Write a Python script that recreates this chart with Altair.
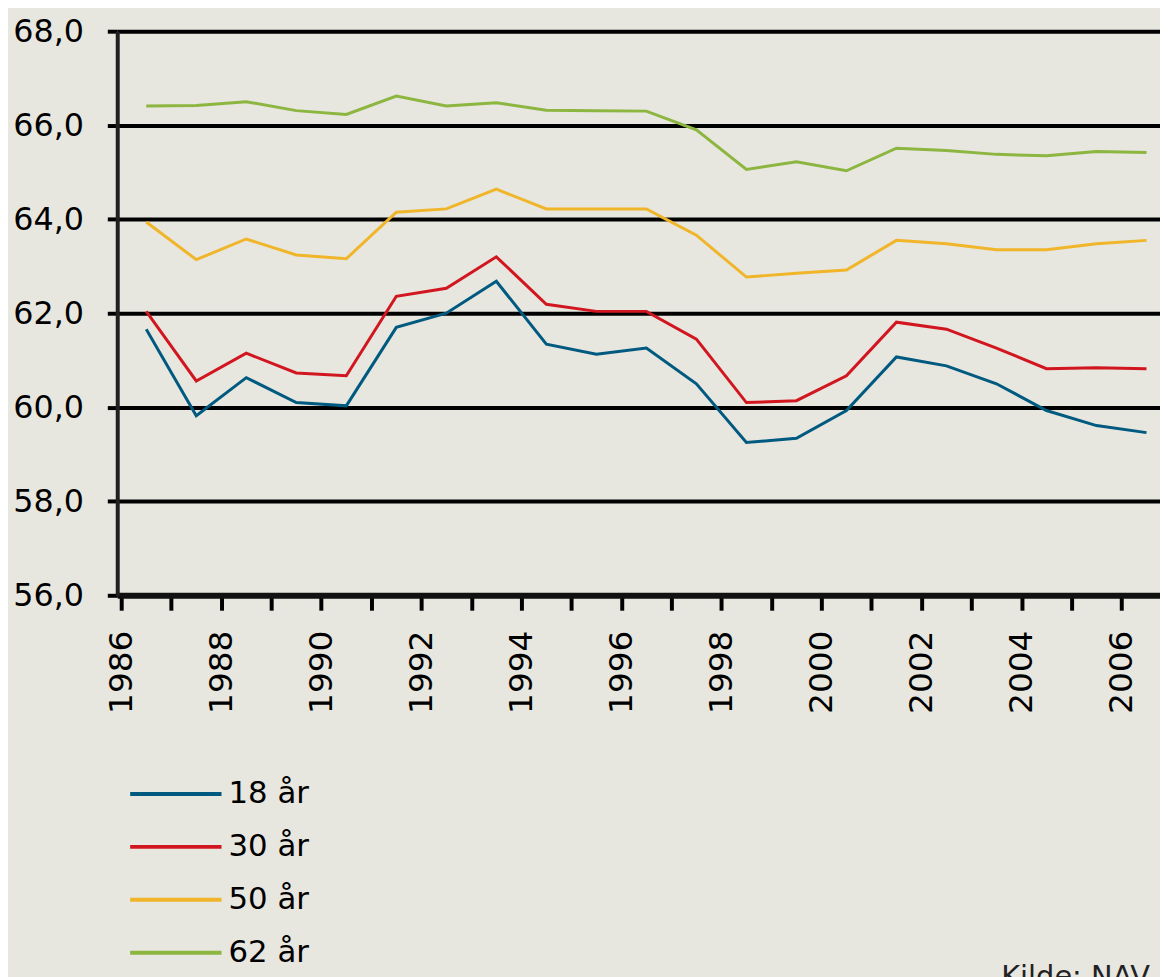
import altair as alt
import pandas as pd

years = list(range(1986, 2007))
series_names = ["18 år", "30 år", "50 år", "62 år"]
series_colors = ["#005a80", "#d2161f", "#f0b528", "#8cb640"]

age18 = [61.66, 59.82, 60.63, 60.10, 60.03, 61.70, 62.00, 62.68, 61.34, 61.13, 61.26,
         60.50, 59.25, 59.34, 59.93, 61.07, 60.88, 60.50, 59.93, 59.61, 59.46]
age30 = [62.04, 60.56, 61.15, 60.73, 60.67, 62.36, 62.53, 63.20, 62.19, 62.04, 62.04,
         61.45, 60.10, 60.14, 60.67, 61.81, 61.66, 61.26, 60.82, 60.84, 60.82]
age50 = [63.94, 63.14, 63.58, 63.24, 63.16, 64.15, 64.22, 64.64, 64.22, 64.22, 64.22,
         63.66, 62.77, 62.85, 62.92, 63.55, 63.48, 63.35, 63.35, 63.48, 63.55]
age62 = [66.41, 66.42, 66.50, 66.31, 66.23, 66.62, 66.41, 66.48, 66.32, 66.31, 66.30,
         65.90, 65.06, 65.22, 65.03, 65.51, 65.46, 65.38, 65.35, 65.44, 65.42]

y_ticks = [56, 58, 60, 62, 64, 66, 68]
source_text = ["Kilde: NAV"]

rows = []
for name, vals in zip(series_names, [age18, age30, age50, age62]):
    for yr, v in zip(years, vals):
        rows.append({"year": yr, "value": v, "serie": name})
df = pd.DataFrame(rows)
legend_df = pd.DataFrame({"serie": series_names})

FONT = "DejaVu Sans"
color_scale = alt.Scale(domain=series_names, range=series_colors)

lines = alt.Chart(df).transform_calculate(
    xpos="datum.year + 0.5"
).mark_line(strokeWidth=3).encode(
    x=alt.X("xpos:Q",
            scale=alt.Scale(domain=[1985.92, 2006.77], nice=False, zero=False),
            axis=alt.Axis(values=years, title=None,
                          labelExpr="datum.value % 2 == 0 ? format(datum.value, 'd') : ''",
                          labelAngle=-90, labelAlign="right", labelBaseline="middle",
                          labelFontSize=33, labelFont=FONT, labelColor="black",
                          labelOverlap=False, labelFlush=False, labelPadding=20,
                          tickSize=15, tickWidth=4, tickColor="black",
                          domainColor="#111111", domainWidth=6, grid=False)),
    y=alt.Y("value:Q",
            scale=alt.Scale(domain=[56, 68], nice=False, zero=False),
            axis=alt.Axis(values=y_ticks, title=None,
                          labelExpr="replace(format(datum.value, '.1f'), '.', ',')",
                          labelFontSize=32, labelFont=FONT, labelColor="black",
                          labelPadding=24, tickSize=10, tickWidth=4, tickColor="black",
                          domainColor="#231f20", domainWidth=4,
                          grid=True, gridColor="black", gridWidth=4, gridOpacity=1)),
    color=alt.Color("serie:N", scale=color_scale, legend=None)
)

leg_y = alt.Y("serie:N", axis=None,
              scale=alt.Scale(type="point", domain=series_names, range=[768, 928], padding=0))

leg_lines = alt.Chart(legend_df).mark_rule(strokeWidth=4).encode(
    x=alt.value(13), x2=alt.value(105), y=leg_y,
    color=alt.Color("serie:N", scale=color_scale, legend=None)
)
leg_text = alt.Chart(legend_df).mark_text(
    align="left", baseline="middle", fontSize=31, font=FONT, color="black"
).encode(x=alt.value(112), y=leg_y, text="serie:N")

src = alt.Chart(pd.DataFrame({"t": source_text})).mark_text(
    align="right", baseline="top", fontSize=29, font=FONT, color="#222222"
).encode(text="t:N", x=alt.value(1040), y=alt.value(938))

chart = alt.layer(lines, leg_lines, leg_text, src).resolve_scale(
    y="independent"
).properties(
    width=1050, height=568,
    autosize=alt.AutoSizeParams(type="none"),
    padding={"left": 110, "top": 20, "right": 0, "bottom": 381},
    background="#e7e6df"
).configure_view(stroke=None)

chart.save("out.html", embed_options={"renderer": "svg", "actions": False})
